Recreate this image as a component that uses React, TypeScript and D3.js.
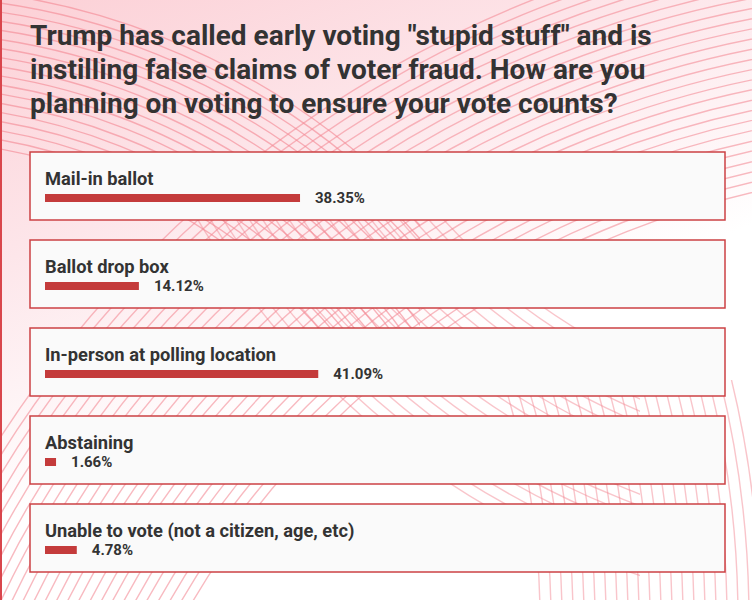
import React from "react";
import * as d3 from "d3";

const titleLines = [
  'Trump has called early voting "stupid stuff" and is',
  "instilling false claims of voter fraud. How are you",
  "planning on voting to ensure your vote counts?",
];
const options = [
  "Mail-in ballot",
  "Ballot drop box",
  "In-person at polling location",
  "Abstaining",
  "Unable to vote (not a citizen, age, etc)",
];
const percents = [38.35, 14.12, 41.09, 1.66, 4.78];

const W = 752;
const H = 600;

type Fam = { cx: number; cy: number; r0: number; r1: number; step: number; op: number; clip: string };
const families: Fam[] = [
  { cx: -100, cy: 700, r0: 560, r1: 720, step: 9, op: 0.65, clip: "cTop" },
  { cx: 950, cy: 1050, r0: 880, r1: 1140, step: 10, op: 0.6, clip: "cAll" },
  { cx: -260, cy: 620, r0: 800, r1: 1030, step: 11, op: 0.5, clip: "cBR" },
  { cx: 900, cy: -200, r0: 620, r1: 820, step: 11, op: 0.5, clip: "cMid" },
];

export default function App() {
  const x = d3.scaleLinear().domain([0, 100]).range([0, 665]);
  const y = d3
    .scaleBand<number>()
    .domain(d3.range(options.length))
    .range([152, 572])
    .paddingInner(20 / 88)
    .paddingOuter(0);
  const boxX = 30;
  const boxW = 695;
  const bh = y.bandwidth();
  const arc = (r: number, cx: number, cy: number) => {
    const p = d3.path();
    p.arc(cx, cy, r, 0, Math.PI * 2);
    return p.toString();
  };
  return (
    <svg
      width={W}
      height={H}
      style={{ position: "absolute", left: 0, top: 0, display: "block" }}
      fontFamily="Roboto, sans-serif"
    >
      <defs>
        <linearGradient id="bg" x1="0" y1="0" x2="0.5" y2="1">
          <stop offset="0" stopColor="#fcd0d6" />
          <stop offset="0.35" stopColor="#fde6ea" />
          <stop offset="0.7" stopColor="#ffffff" />
          <stop offset="1" stopColor="#ffffff" />
        </linearGradient>
        <clipPath id="cAll">
          <rect x={0} y={0} width={W} height={H} />
        </clipPath>
        <clipPath id="cTop">
          <rect x={0} y={0} width={420} height={340} />
        </clipPath>
        <clipPath id="cBR">
          <rect x={380} y={380} width={400} height={240} />
        </clipPath>
        <clipPath id="cMid">
          <rect x={0} y={200} width={640} height={420} />
        </clipPath>
      </defs>
      <rect x={0} y={0} width={W} height={H} fill="url(#bg)" />
      <g fill="none" stroke="#f58d98" strokeWidth={1.4}>
        {families.map((f, fi) => (
          <g key={fi} opacity={f.op} clipPath={`url(#${f.clip})`}>
            {d3.range(f.r0, f.r1, f.step).map((r) => (
              <path key={r} d={arc(r, f.cx, f.cy)} />
            ))}
          </g>
        ))}
      </g>
      <rect x={0} y={0} width={2} height={H} fill="#d9464c" />
      <g fill="#333333" fontWeight="bold" fontSize={28}>
        {titleLines.map((t, i) => (
          <text key={i} x={30} y={45 + i * 34}>
            {t}
          </text>
        ))}
      </g>
      {options.map((o, i) => {
        const top = y(i) as number;
        const bw = x(percents[i]);
        return (
          <g key={o}>
            <rect
              x={boxX}
              y={top}
              width={boxW}
              height={bh}
              fill="#fafafa"
              stroke="#cc4144"
              strokeWidth={1.5}
            />
            <text x={45} y={top + 33} fontSize={18.3} fontWeight="bold" fill="#333333">
              {o}
            </text>
            <rect x={45} y={top + 42} width={bw} height={8} fill="#c43b3b" />
            <text x={45 + bw + 15} y={top + 51} fontSize={15} fontWeight="bold" fill="#333333">
              {percents[i].toFixed(2)}%
            </text>
          </g>
        );
      })}
    </svg>
  );
}
